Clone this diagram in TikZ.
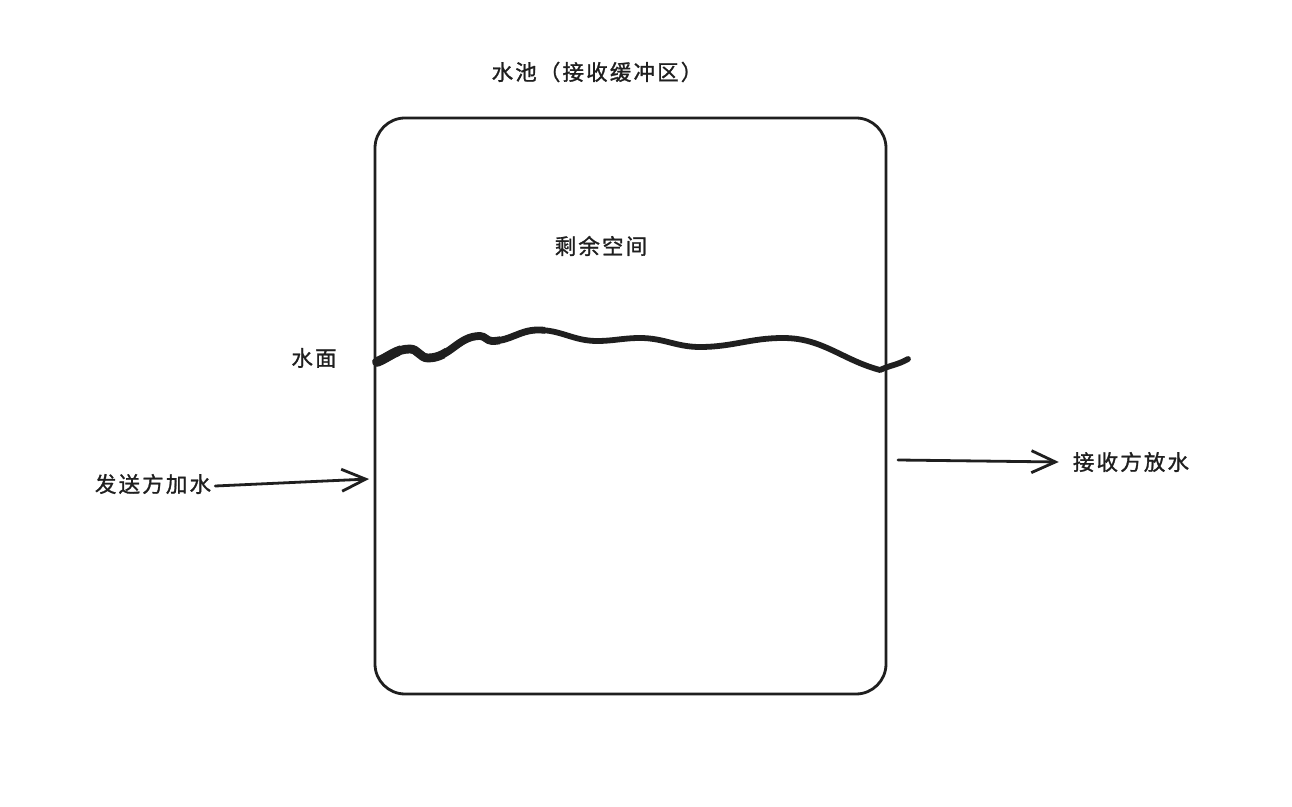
\documentclass[tikz,border=0pt]{standalone}
\usepackage{fontspec}
\setmainfont{Noto Sans CJK SC}
\newfontfamily\lblfont{Noto Sans CJK SC}[LetterSpace=10,FakeBold=1.2]
\usetikzlibrary{arrows.meta}
\begin{document}
\begin{tikzpicture}[x=1pt,y=1pt,
  lbl/.style={font=\lblfont\fontsize{21.5}{24}\selectfont, text=black!88, inner sep=0pt},
  pool/.style={draw=black!88, line width=2.8pt, rounded corners=30pt, minimum width=511pt, minimum height=576pt, inner sep=0pt},
  flow/.style={draw=black!88, line width=2.8pt, line cap=round, -{Straight Barb[length=24pt,width=22pt,line width=2.8pt]}},
  wave/.style={draw=black!88, line cap=round, line join=round}
]
\useasboundingbox[fill=white] (0,0) rectangle (1292,806);
\node[pool] (pool) at (630.5,400) {};
\node[lbl] (title) at (597,734) {水池（接收缓冲区）};
\node[lbl] (space) at (601,560) {剩余空间};
\node[lbl] (surf) at (314,448) {水面};
\node[lbl] (send) at (153,322) {发送方加水};
\node[lbl] (recv) at (1131,344) {接收方放水};
\coordinate (inL) at (369,327);
\coordinate (outR) at (898,346);
\draw[flow] (send.east) ++(4pt,-2pt) -- (inL);
\draw[flow] (outR) -- ([xshift=-14pt]recv.west);
% water surface
\def\wline{(377,444) to[out=22,in=180] (410,457) to[out=0,in=180] (428,448)
  to[out=0,in=180] (480,470) to[out=0,in=180] (492,465) to[out=0,in=180] (538,476)
  to[out=0,in=180] (597,465) to[out=0,in=180] (640,468) to[out=0,in=180] (700,459)
  to[out=0,in=180] (783,468) to[out=0,in=165] (880,436) to[out=25,in=210] (908,447)}
\draw[wave, line width=5.8pt] \wline;
\begin{scope}
  \clip (360,400) rectangle (545,500);
  \draw[wave, line width=6.8pt] \wline;
\end{scope}
\begin{scope}
  \clip (360,400) rectangle (500,500);
  \draw[wave, line width=7.8pt] \wline;
\end{scope}
\begin{scope}
  \clip (360,400) rectangle (445,500);
  \draw[wave, line width=8.8pt] \wline;
\end{scope}
\begin{scope}
  \clip (360,400) rectangle (400,500);
  \draw[wave, line width=9.8pt] \wline;
\end{scope}
\end{tikzpicture}
\end{document}
